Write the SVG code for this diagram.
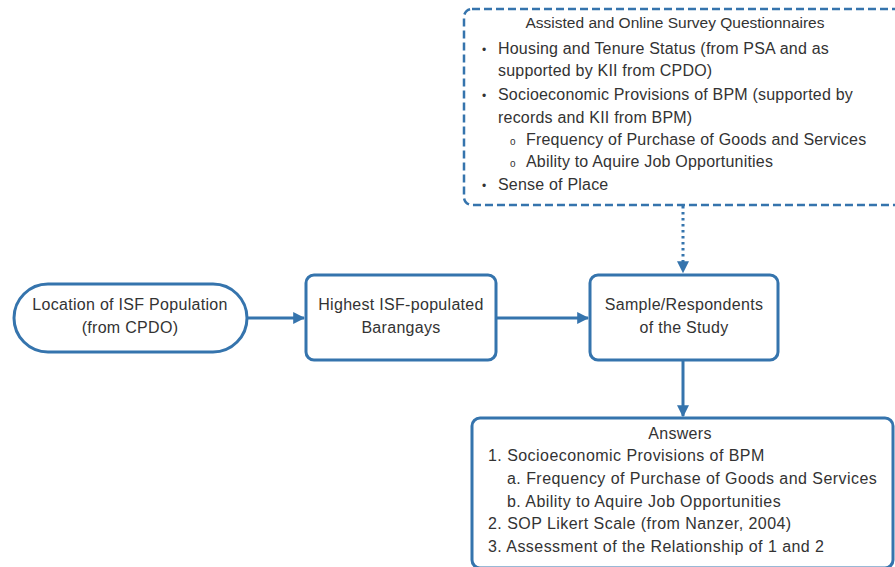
<svg xmlns="http://www.w3.org/2000/svg" width="895" height="567" viewBox="0 0 895 567">
<style>
.box{fill:#fff;stroke:#3574ad;stroke-width:3}
.dash{fill:#fff;stroke:#3574ad;stroke-width:2.5;stroke-dasharray:8 4}
.t{font-family:"Liberation Sans",Arial,sans-serif;font-size:16px;fill:#333;letter-spacing:0.3px}
.a{letter-spacing:0.45px}
.s{letter-spacing:0.2px}
.c{text-anchor:middle}
.h{font-size:15.5px;letter-spacing:0}
.con{stroke:#3574ad;stroke-width:3;fill:none}
.dot{stroke:#3574ad;stroke-width:3;fill:none;stroke-dasharray:2.5 3.5}
</style>
<defs>
<marker id="ah" viewBox="0 0 10 10" refX="9" refY="5" markerWidth="4" markerHeight="4" orient="auto" markerUnits="strokeWidth">
<path d="M0,0 L10,5 L0,10 z" fill="#3574ad"/>
</marker>
</defs>
<rect width="895" height="567" fill="#fff"/>
<g id="connectors">
<line class="con" x1="247" y1="318" x2="304" y2="318" marker-end="url(#ah)"/>
<line class="con" x1="496" y1="318" x2="588" y2="318" marker-end="url(#ah)"/>
<line class="dot" x1="683" y1="206" x2="683" y2="272" marker-end="url(#ah)"/>
<line class="con" x1="683" y1="361" x2="683" y2="416" marker-end="url(#ah)"/>
</g>
<g id="survey">
<rect class="dash" x="464" y="9" width="440" height="196" rx="8"/>
<text class="t c h" x="675" y="28">Assisted and Online Survey Questionnaires</text>
<g class="t s">
<text x="482" y="54" font-size="12">•</text><text x="498" y="54">Housing and Tenure Status (from PSA and as</text>
<text x="498" y="76">supported by KII from CPDO)</text>
<text x="482" y="100" font-size="12">•</text><text x="498" y="100">Socioeconomic Provisions of BPM (supported by</text>
<text x="498" y="123">records and KII from BPM)</text>
<text x="510" y="145" font-size="10">o</text><text x="526" y="145">Frequency of Purchase of Goods and Services</text>
<text x="510" y="167" font-size="10">o</text><text x="526" y="167">Ability to Aquire Job Opportunities</text>
<text x="482" y="190" font-size="12">•</text><text x="498" y="190">Sense of Place</text>
</g>
</g>
<g id="location">
<rect class="box" x="14" y="284" width="233" height="68" rx="34"/>
<text class="t c" x="130" y="310">Location of ISF Population</text>
<text class="t c" x="130" y="333">(from CPDO)</text>
</g>
<g id="barangays">
<rect class="box" x="306" y="275" width="190" height="85" rx="8"/>
<text class="t c" x="401" y="310">Highest ISF-populated</text>
<text class="t c" x="401" y="333">Barangays</text>
</g>
<g id="sample">
<rect class="box" x="590" y="275" width="188" height="85" rx="8"/>
<text class="t c" x="684" y="310">Sample/Respondents</text>
<text class="t c" x="684" y="333">of the Study</text>
</g>
<g id="answers">
<rect class="box" x="472" y="418" width="421" height="150" rx="8"/>
<text class="t c" x="680" y="439">Answers</text>
<g class="t a">
<text x="488" y="461">1.  Socioeconomic Provisions of BPM</text>
<text x="507" y="484">a.  Frequency of Purchase of Goods and Services</text>
<text x="507" y="507">b.  Ability to Aquire Job Opportunities</text>
<text x="488" y="529">2.  SOP Likert Scale (from Nanzer, 2004)</text>
<text x="488" y="552">3.  Assessment of the Relationship of 1 and 2</text>
</g>
</g>
</svg>
